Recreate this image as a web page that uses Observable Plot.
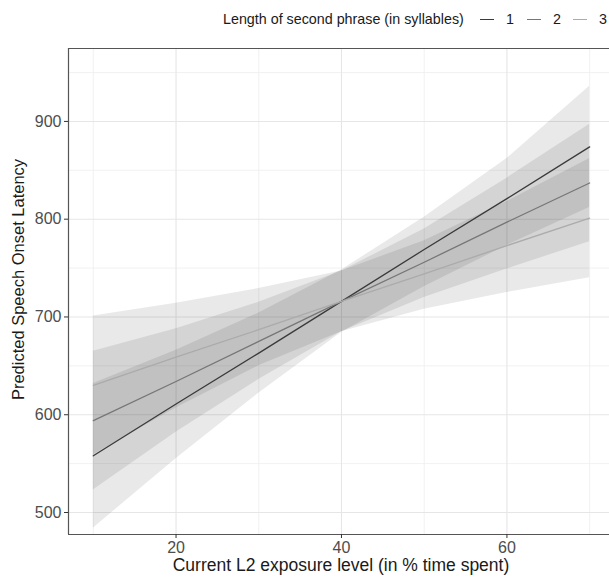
<!DOCTYPE html>
<html>
<head>
<meta charset="utf-8">
<script src="https://cdn.jsdelivr.net/npm/d3@7"></script>
<script src="https://cdn.jsdelivr.net/npm/@observablehq/plot@0.6"></script>
<style>
  html, body { margin: 0; padding: 0; background: #fff; }
  body { width: 609px; height: 583px; overflow: hidden; font-family: "Liberation Sans", Arial, sans-serif; }
  #legend { position: relative; height: 40px; width: 609px; }
  #legend .t { position: absolute; top: 10px; font-size: 14.3px; color: #1a1a1a; white-space: nowrap; line-height: 18px; }
  #legend .k { position: absolute; top: 19px; width: 14px; height: 0; border-top: 1.6px solid #000; }
</style>
</head>
<body>
<div id="legend"></div>
<div id="chart"></div>
<script>
// ---- data ----
const legendTitle = "Length of second phrase (in syllables)";
const seriesNames = ["1", "2", "3"];
const seriesColors = ["#3a3a3a", "#767676", "#ababab"];
const xs = [10, 20, 30, 40, 50, 60, 70];
const fit1 = [558, 611, 663, 716, 769, 821, 874];
const lo1  = [484, 555, 622, 684, 731, 773, 812];
const hi1  = [632, 666, 704, 748, 802, 862, 936];
const fit2 = [594, 634, 675, 716, 756, 797, 837];
const lo2  = [523, 582, 636, 685, 720, 749, 777];
const hi2  = [665, 688, 715, 747, 790, 842, 897];
const fit3 = [630, 659, 687, 716, 744, 773, 801];
const lo3  = [559, 607, 650, 685, 708, 725, 740];
const hi3  = [701, 714, 729, 747, 778, 818, 862];
const xMajor = [20, 40, 60];
const xMinor = [10, 30, 50, 70];
const yMajor = [500, 600, 700, 800, 900];
const yMinor = [550, 650, 750, 850, 950];
const xDomain = [7, 72.4];
const yDomain = [477.5, 974.6];
const xTitle = "Current L2 exposure level (in % time spent)";
const yTitle = "Predicted Speech Onset Latency";

const fits = [fit1, fit2, fit3], los = [lo1, lo2, lo3], his = [hi1, hi2, hi3];
const rows = [];
seriesNames.forEach((s, i) => xs.forEach((x, j) => rows.push({series: s, x, fit: fits[i][j], lo: los[i][j], hi: his[i][j]})));

// ---- legend (HTML, above the svg) ----
const leg = document.getElementById("legend");
const addT = (txt, left) => { const e = document.createElement("div"); e.className = "t"; e.textContent = txt; e.style.left = left + "px"; leg.appendChild(e); };
const addK = (color, left) => { const e = document.createElement("div"); e.className = "k"; e.style.borderTopColor = color; e.style.left = left + "px"; leg.appendChild(e); };
addT(legendTitle, 223);
const keyLefts = [480, 527, 573];
const labLefts = [506, 553, 599];
seriesNames.forEach((s, i) => { addK(seriesColors[i], keyLefts[i]); addT(s, labLefts[i]); });

// ---- chart ----
const chart = Plot.plot({
  width: 609,
  height: 543,
  marginTop: 8,
  marginBottom: 49,
  marginLeft: 68,
  marginRight: 0,
  style: {fontFamily: "'Liberation Sans', Arial, sans-serif", background: "#fff", overflow: "visible"},
  x: {domain: xDomain},
  y: {domain: yDomain},
  color: {domain: seriesNames, range: seriesColors},
  marks: [
    Plot.ruleX(xMinor, {stroke: "#eeeeee", strokeWidth: 0.8}),
    Plot.ruleY(yMinor, {stroke: "#eeeeee", strokeWidth: 0.8}),
    Plot.ruleX(xMajor, {stroke: "#e6e6e6", strokeWidth: 1.1}),
    Plot.ruleY(yMajor, {stroke: "#e6e6e6", strokeWidth: 1.1}),
    Plot.areaY(rows, {x: "x", y1: "lo", y2: "hi", z: "series", fill: "#000", fillOpacity: 0.085}),
    Plot.line(rows, {x: "x", y: "fit", z: "series", stroke: "series", strokeWidth: 1.3}),
    Plot.ruleX([xDomain[0]], {stroke: "#555", strokeWidth: 1.2}),
    Plot.ruleY([yDomain[0]], {stroke: "#555", strokeWidth: 1.2}),
    Plot.ruleY([yDomain[1]], {stroke: "#555", strokeWidth: 1.2}),
    Plot.axisX({ticks: xMajor, tickSize: 4, tickPadding: 3, fontSize: 16, fill: "#4d4d4d", stroke: "#333", label: null}),
    Plot.axisY({ticks: yMajor, tickSize: 4, tickPadding: 3, fontSize: 16, fill: "#4d4d4d", stroke: "#333", label: null}),
    Plot.text([xTitle], {text: d => d, frameAnchor: "bottom", dy: 36, dx: 2, fontSize: 17.5, fill: "#1a1a1a"}),
    Plot.text([yTitle], {text: d => d, frameAnchor: "left", textAnchor: "middle", rotate: -90, dx: -50, dy: -12, fontSize: 16.5, fill: "#1a1a1a"})
  ]
});
document.getElementById("chart").appendChild(chart);
</script>
</body>
</html>
